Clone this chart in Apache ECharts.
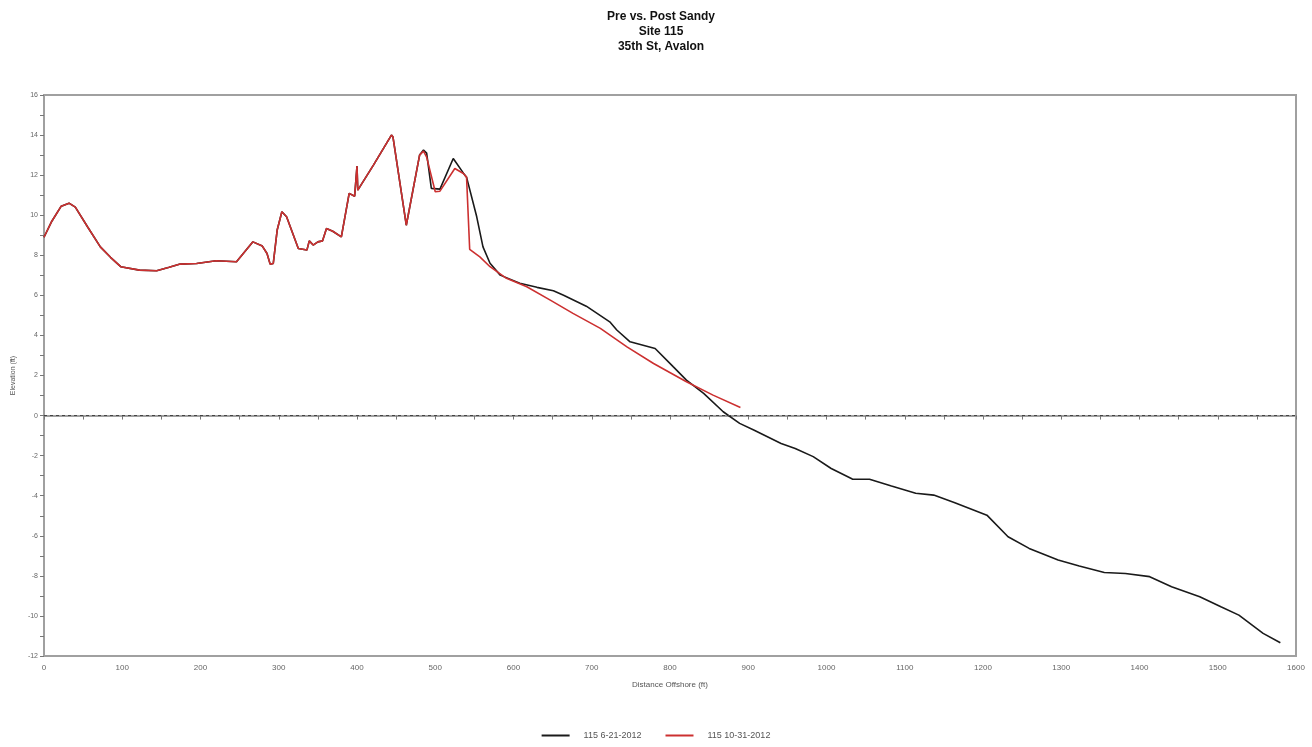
<!DOCTYPE html>
<html lang="en">
<head>
	<meta charset="UTF-8">
	<title>Pre vs. Post Sandy</title>
	<script src="https://cdn.jsdelivr.net/npm/echarts@6/dist/echarts.min.js"></script>
	<style>
		html, body { margin: 0; padding: 0; background: #fff; }
	</style>
</head>
<body>
	<div id="main" style="width: 1312px; height: 747px;"></div>
	<script type="text/javascript">
	// survey profiles: distance offshore (ft) and elevation (ft)
	var preName = '115 6-21-2012';
	var preX = [0, 10, 22, 32, 40, 56, 72, 85, 98, 122, 144, 160, 174, 195, 220, 246, 267, 279, 285, 289, 293, 298, 304, 310, 325, 336, 339, 344, 350, 356, 361, 369, 380, 390, 397, 400, 401, 421, 444, 446, 463, 480, 485, 489, 495, 506, 523, 536, 540, 553, 561, 570, 583, 608, 630, 651, 664, 693, 723, 732, 749, 781, 804, 821, 843, 868, 889, 907, 942, 960, 983, 1006, 1033, 1055, 1083, 1114, 1137, 1164, 1205, 1232, 1259, 1296, 1323, 1355, 1382, 1413, 1441, 1477, 1504, 1527, 1558, 1580];
	var preY = [8.9, 9.7, 10.45, 10.6, 10.4, 9.4, 8.42, 7.9, 7.43, 7.26, 7.23, 7.4, 7.56, 7.59, 7.73, 7.68, 8.67, 8.46, 8.09, 7.56, 7.59, 9.26, 10.17, 9.92, 8.34, 8.26, 8.72, 8.51, 8.67, 8.72, 9.34, 9.2, 8.92, 11.09, 10.95, 12.45, 11.25, 12.5, 14.0, 13.9, 9.5, 13.0, 13.25, 13.1, 11.34, 11.3, 12.83, 12.1, 11.9, 9.92, 8.42, 7.6, 7.01, 6.6, 6.4, 6.23, 6.01, 5.46, 4.68, 4.27, 3.68, 3.35, 2.44, 1.77, 1.11, 0.19, -0.39, -0.72, -1.39, -1.64, -2.05, -2.64, -3.17, -3.18, -3.52, -3.88, -3.97, -4.35, -4.97, -6.05, -6.63, -7.21, -7.51, -7.83, -7.88, -8.04, -8.54, -9.04, -9.54, -9.96, -10.87, -11.34];

	var postName = '115 10-31-2012';
	var postX = [0, 10, 22, 32, 40, 56, 72, 85, 98, 122, 144, 160, 174, 195, 220, 246, 267, 279, 285, 289, 293, 298, 304, 310, 325, 336, 339, 344, 350, 356, 361, 369, 380, 390, 397, 400, 401, 421, 444, 446, 463, 480, 485, 489, 500, 506, 525, 536, 540, 544, 557, 570, 591, 617, 647, 676, 711, 745, 779, 821, 855, 890];
	var postY = [8.9, 9.7, 10.45, 10.6, 10.4, 9.4, 8.42, 7.9, 7.43, 7.26, 7.23, 7.4, 7.56, 7.59, 7.73, 7.68, 8.67, 8.46, 8.09, 7.56, 7.59, 9.26, 10.17, 9.92, 8.34, 8.26, 8.72, 8.51, 8.67, 8.72, 9.34, 9.2, 8.92, 11.09, 10.95, 12.45, 11.25, 12.5, 14.0, 13.9, 9.5, 13.0, 13.2, 12.9, 11.17, 11.2, 12.33, 12.08, 11.9, 8.3, 7.92, 7.43, 6.85, 6.43, 5.76, 5.1, 4.35, 3.43, 2.6, 1.69, 1.02, 0.4];

	function pairs(xs, ys) {
		var out = [];
		for (var i = 0; i < xs.length; i++) {
			out.push([xs[i], ys[i]]);
		}
		return out;
	}

	var font = 'Liberation Sans, Arial, sans-serif';
	var axisGrey = '#a0a0a0';

	var option = {
		backgroundColor: '#fff',
		animation: false,
		title: {
			text: 'Pre vs. Post Sandy\nSite 115\n35th St, Avalon',
			left: 656,
			textAlign: 'center',
			top: 4,
			textStyle: {
				fontFamily: font,
				fontSize: 12,
				fontWeight: 'bold',
				lineHeight: 15,
				color: '#111'
			}
		},
		legend: {
			bottom: 2,
			left: 'center',
			itemWidth: 28,
			itemHeight: 2,
			itemGap: 24,
			icon: 'rect',
			data: [preName, postName],
			textStyle: {
				fontFamily: font,
				fontSize: 9,
				color: '#555',
				padding: [0, 0, 0, 9]
			}
		},
		grid: {
			left: 44,
			right: 16,
			top: 95,
			bottom: 91,
			show: true,
			borderColor: axisGrey,
			borderWidth: 2,
			containLabel: false
		},
		xAxis: {
			type: 'value',
			min: 0,
			max: 1600,
			interval: 100,
			name: 'Distance Offshore (ft)',
			nameLocation: 'middle',
			nameGap: 25,
			nameTextStyle: { fontFamily: font, fontSize: 8, color: '#555' },
			axisLine: { lineStyle: { color: axisGrey, width: 2 } },
			axisTick: { show: true, length: 4, lineStyle: { color: '#777' } },
			minorTick: { show: true, splitNumber: 2, length: 4, lineStyle: { color: '#777' } },
			axisLabel: {
				fontFamily: font, fontSize: 8, color: '#666', margin: 8,
				formatter: function (v) { return String(v); }
			},
			splitLine: { show: false }
		},
		yAxis: {
			type: 'value',
			min: -12,
			max: 16,
			interval: 2,
			name: 'Elevation (ft)',
			nameLocation: 'middle',
			nameGap: 18,
			nameTextStyle: { fontFamily: font, fontSize: 7, color: '#555' },
			axisLine: { lineStyle: { color: axisGrey, width: 2 } },
			axisTick: { show: true, length: 4, lineStyle: { color: '#777' } },
			minorTick: { show: true, splitNumber: 2, length: 4, lineStyle: { color: '#777' } },
			axisLabel: {
				fontFamily: font, fontSize: 7, color: '#666', margin: 6,
				formatter: function (v) { return String(v); }
			},
			splitLine: { show: false }
		},
		series: [
			{
				name: preName,
				type: 'line',
				symbol: 'none',
				color: '#1a1a1a',
				lineStyle: { width: 1.6, color: '#1a1a1a' },
				data: pairs(preX, preY),
				markLine: {
					silent: true,
					symbol: 'none',
					label: { show: false },
					lineStyle: { color: '#444', type: [3, 3], width: 1 },
					data: [{ yAxis: 0 }]
				},
				z: 2
			},
			{
				name: postName,
				type: 'line',
				symbol: 'none',
				color: '#cc3030',
				lineStyle: { width: 1.6, color: '#cc3030' },
				data: pairs(postX, postY),
				z: 3
			}
		]
	};

	var chart = echarts.init(document.getElementById('main'));
	chart.setOption(option);
	</script>
</body>
</html>
